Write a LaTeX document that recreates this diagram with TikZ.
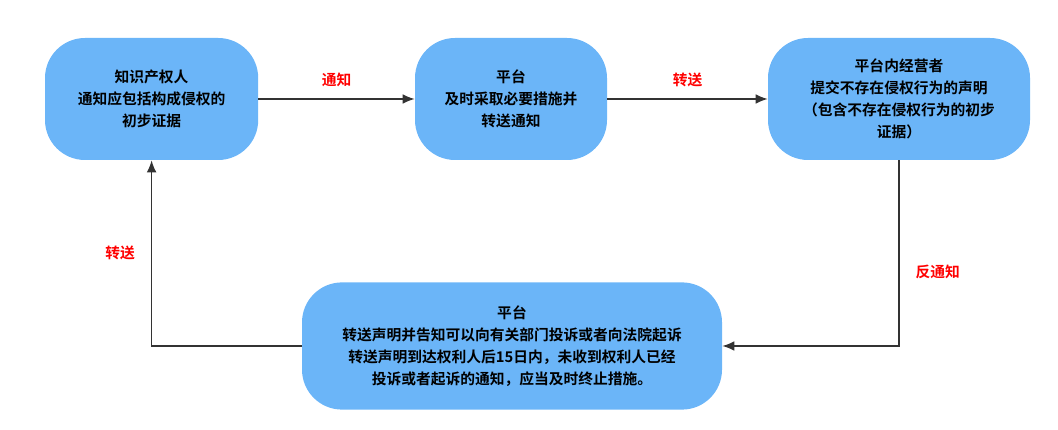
\documentclass[tikz,border=0pt]{standalone}
\usepackage{fontspec}
\setmainfont{Noto Sans CJK SC}[BoldFont={* Bold}]
\usetikzlibrary{positioning,arrows.meta}
\definecolor{boxblue}{HTML}{6BB5F8}
\tikzset{
  stepbox/.style={fill=boxblue, rounded corners=1cm, align=center, font=\bfseries\fontsize{10.5}{15.5}\selectfont, inner sep=2pt},
  flow/.style={-{Latex[length=3mm,width=2.4mm]}, line width=1pt, draw=black!80},
  lbl/.style={text=red, font=\bfseries\fontsize{10.5}{13}\selectfont}
}
\begin{document}
\begin{tikzpicture}
\useasboundingbox (0,0) rectangle (26.45,10.75);

\node[stepbox, minimum width=5.33cm, minimum height=3.05cm] (notice) at (3.79,8.275)
  {知识产权人\\通知应包括构成侵权的\\初步证据};
\node[stepbox, minimum width=4.8cm, minimum height=3.05cm] (platform) at (12.775,8.275)
  {平台\\及时采取必要措施并\\转送通知};
\node[stepbox, minimum width=6.55cm, minimum height=3.05cm] (seller) at (22.475,8.275)
  {平台内经营者\\提交不存在侵权行为的声明\\（包含不存在侵权行为的初步\\证据）};
\node[stepbox, minimum width=10.5cm, minimum height=3.18cm] (forward) at (12.8,2.1)
  {平台\\转送声明并告知可以向有关部门投诉或者向法院起诉\\转送声明到达权利人后15日内，未收到权利人已经\\投诉或者起诉的通知，应当及时终止措施。};

\draw[flow] (notice) -- node[lbl, above=5pt] {通知} (platform);
\draw[flow] (platform) -- node[lbl, above=5pt] {转送} (seller);
\draw[flow] (seller.south) |- node[lbl, pos=0.3, right=8pt] {反通知} (forward.east);
\draw[flow] (forward.west) -| node[lbl, pos=0.75, left=8pt] {转送} (notice.south);
\end{tikzpicture}
\end{document}
